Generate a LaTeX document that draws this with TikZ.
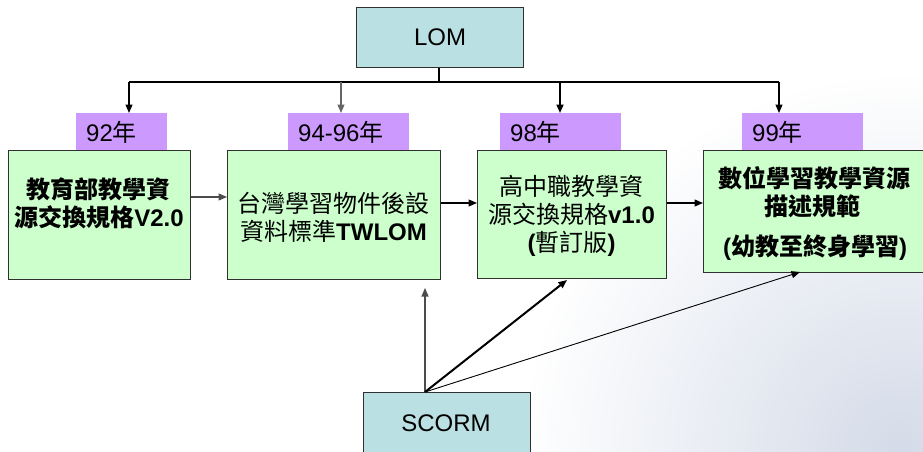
\documentclass[tikz,border=0pt]{standalone}
\usepackage{fontspec}
\setmainfont{Liberation Sans}
\newfontfamily\cjk{Noto Sans CJK TC}
\usetikzlibrary{arrows.meta}
\definecolor{lomfill}{HTML}{BBE0E3}
\definecolor{greenfill}{HTML}{CCFFCC}
\definecolor{purplefill}{HTML}{CC99FF}
\definecolor{bgc}{HTML}{D4DBE8}
\definecolor{edge}{HTML}{303030}
\begin{document}
\begin{tikzpicture}[x=1pt,y=-1pt,
  bigfont/.style={font=\fontsize{24}{28}\selectfont},
  topbox/.style={draw=edge, line width=1.2pt, fill=lomfill, anchor=north west, inner sep=0, bigfont},
  stdbox/.style={draw=edge, line width=1.4pt, fill=greenfill, anchor=north west, inner sep=0},
  yearbox/.style={fill=purplefill, anchor=north west, minimum height=39pt, inner xsep=10pt, inner ysep=0, align=left, bigfont},
  boxtext/.style={align=center, inner sep=0, bigfont},
  conn/.style={line width=1.2pt, -{Triangle[length=8.5pt,width=7pt]}},
  plain/.style={line width=1.2pt}
]
\useasboundingbox (0,0) rectangle (923,452);
\clip (0,0) rectangle (923,452);
\fill[white] (0,0) rectangle (923,452);
\shade[inner color=bgc, outer color=white] (900,452) circle[radius=380pt];

% LOM
\node[topbox, minimum width=167pt, minimum height=60pt] (lom) at (356,7) {LOM};
\coordinate (lj) at (439,82);
\coordinate (j1) at (129,82);
\coordinate (j2) at (341,82);
\coordinate (j3) at (560,82);
\coordinate (j4) at (779,82);

% year labels
\node[yearbox, minimum width=91pt, text width=71pt] (y1) at (76,113) {92{\cjk 年}};
\node[yearbox, minimum width=121pt, text width=101pt] (y2) at (288,113) {94-96{\cjk 年}};
\node[yearbox, minimum width=121pt, text width=101pt] (y3) at (500,113) {98{\cjk 年}};
\node[yearbox, minimum width=121pt, text width=101pt] (y4) at (742,113) {99{\cjk 年}};

% green boxes
\node[stdbox, minimum width=182pt, minimum height=129pt] (b1) at (8,150) {};
\node[stdbox, minimum width=213pt, minimum height=129pt] (b2) at (227,150) {};
\node[stdbox, minimum width=189pt, minimum height=128pt] (b3) at (477,150) {};
\node[stdbox, minimum width=230pt, minimum height=122pt] (b4) at (703,150) {};

\node[boxtext] (t1) at (99,203) {{\cjk\bfseries 教育部教學資}\\{\cjk\bfseries 源交換規格}\textbf{V2.0}};
\node[boxtext] (t2) at (333.5,217) {{\cjk 台灣學習物件後設}\\{\cjk 資料標準}\textbf{TWLOM}};
\node[boxtext] (t3) at (571.5,216) {{\cjk 高中職教學資}\\{\cjk 源交換規格}\textbf{v1.0}\\\textbf{(}{\cjk 暫訂版}\textbf{)}};
\node[boxtext] (t4a) at (814,178) {\cjk\bfseries 數位學習教學資源};
\node[boxtext] (t4b) at (812,206) {\cjk\bfseries 描述規範};
\node[boxtext] (t4c) at (815,248) {\textbf{(}{\cjk\bfseries 幼教至終身學習}\textbf{)}};

% SCORM
\node[topbox, minimum width=167pt, minimum height=70pt] (scorm) at (363,392) {};
\node[bigfont, inner sep=0] (scormt) at (446,423) {SCORM};
\coordinate (sc) at (425,392);
\coordinate (s2) at (425,288);
\coordinate (s3) at (567,280);
\coordinate (s4) at (800,272);

% LOM connectors
\draw[plain] (lom.south -| lj) -- (lj);
\draw[plain] (j1) -- (lj);
\draw[line width=1.7pt] (lj) -- (j4);
\draw[conn] (j1) -- (j1 |- y1.north);
\draw[conn, draw=black!60] (j2) -- (j2 |- y2.north);
\draw[conn, line width=1.7pt] (j3) -- (j3 |- y3.north);
\draw[conn] (j4) -- (j4 |- y4.north);

% horizontal connectors
\draw[conn, draw=black!70] (b1.east |- 0,197) -- (b2.west |- 0,197);
\draw[conn] (b2.east |- 0,203) -- (b3.west |- 0,203);
\draw[conn] (b3.east |- 0,203) -- (b4.west |- 0,203);

% SCORM connectors
\draw[conn, draw=black!70, line width=1.1pt] (sc) -- (s2);
\draw[conn, line width=2pt] (sc) -- (s3);
\draw[conn, line width=0.9pt] (sc) -- (s4);
\end{tikzpicture}
\end{document}
